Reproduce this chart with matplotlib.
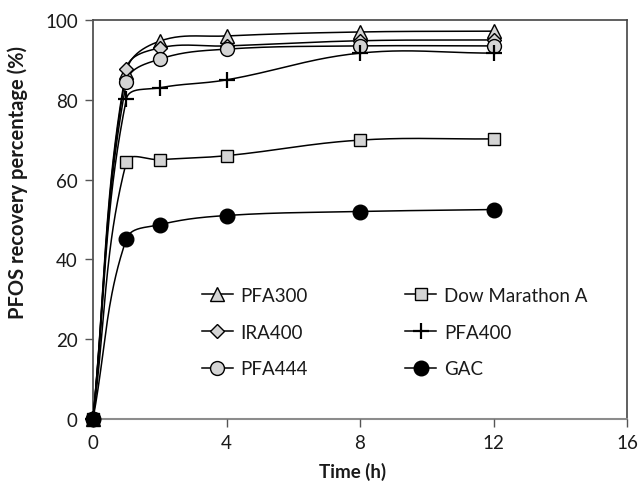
import numpy as np
import matplotlib
matplotlib.use("Agg")
import matplotlib.pyplot as plt
from matplotlib.lines import Line2D

plt.rcParams['font.family'] = ['Lato', 'DejaVu Sans']

time_h = [0, 1, 2, 4, 8, 12]
pfa300 = [0, 87.0, 94.7, 96.0, 97.0, 97.2]
ira400 = [0, 87.7, 93.0, 93.5, 94.8, 95.0]
pfa444 = [0, 84.4, 90.2, 92.7, 93.5, 93.5]
pfa400 = [0, 80.2, 83.0, 85.0, 91.7, 91.7]
dow_marathon_a = [0, 64.4, 65.0, 66.0, 69.9, 70.2]
gac = [0, 45.1, 48.7, 51.0, 52.0, 52.5]

xticks = [0, 4, 8, 12, 16]
yticks = [0, 20, 40, 60, 80, 100]

XS, YS = 33.4, 3.99  # approximate pixels per data unit, used only for curve shape


def smooth(x, y, n=40, k=0.38):
    """Excel-like smoothed drawing path through the data points (Bezier,
    tangents scaled by neighbouring segment lengths)."""
    P = np.column_stack([np.asarray(x, float) * XS, np.asarray(y, float) * YS])
    m = len(P)
    out = []
    t = np.linspace(0, 1, n)[:, None]
    for i in range(m - 1):
        a, b = P[i], P[i + 1]
        prev = P[i - 1] if i > 0 else a
        nxt = P[i + 2] if i + 2 < m else b
        L = np.linalg.norm(b - a)
        Lp = np.linalg.norm(a - prev)
        Ln = np.linalg.norm(nxt - b)
        c1 = a + (b - prev) * k * L / (Lp + L) if (Lp + L) > 0 else a
        c2 = b - (nxt - a) * k * L / (Ln + L) if (Ln + L) > 0 else b
        seg = (1 - t) ** 3 * a + 3 * (1 - t) ** 2 * t * c1 + 3 * (1 - t) * t ** 2 * c2 + t ** 3 * b
        out.append(seg)
    S = np.vstack(out)
    return S[:, 0] / XS, S[:, 1] / YS


fig = plt.figure(figsize=(6.38, 4.85), dpi=100)
ax = fig.add_axes([93 / 638, 65 / 485, 534 / 638, 399 / 485])

gray = '#d4d4d4'
series = [
    ('PFA300', pfa300, dict(marker='^', mfc=gray, mec='black', ms=10)),
    ('IRA400', ira400, dict(marker='D', mfc=gray, mec='black', ms=7.5)),
    ('PFA444', pfa444, dict(marker='o', mfc=gray, mec='black', ms=10)),
    ('Dow Marathon A', dow_marathon_a, dict(marker='s', mfc=gray, mec='black', ms=9)),
    ('PFA400', pfa400, dict(marker='+', mfc='black', mec='black', ms=12, mew=1.6)),
    ('GAC', gac, dict(marker='o', mfc='black', mec='black', ms=10.5)),
]

handles = {}
for name, vals, st in series:
    sx, sy = smooth(time_h, vals)
    ax.plot(sx, sy, color='black', lw=1.1, zorder=2, clip_on=False)
    mew = st.pop('mew', 1.0)
    ax.plot(time_h, vals, linestyle='none', mew=mew, zorder=3, clip_on=False, **st)
    handles[name] = Line2D([], [], color='black', lw=1.1, mew=mew, **st)

ax.set_xlim(0, 16)
ax.set_ylim(0, 100)
ax.set_xticks(xticks)
ax.set_yticks(yticks)
ax.tick_params(axis='both', direction='out', length=6, width=1, colors='#555555',
               labelsize=13.5, labelcolor='#1a1a1a', pad=5)
for s in ['left', 'top', 'right']:
    ax.spines[s].set_color('#444444')
    ax.spines[s].set_linewidth(1.2)
ax.spines['bottom'].set_color('#8c8c8c')
ax.spines['bottom'].set_linewidth(1.5)
for sp in ax.spines.values():
    sp.set_zorder(1)

ax.set_xlabel('Time (h)', fontsize=13.5, fontweight='bold', color='#1a1a1a')
ax.set_ylabel('PFOS recovery percentage (%)', fontsize=14.5, fontweight='bold', color='#1a1a1a')
ax.xaxis.set_label_coords((353 - 93) / 534, -0.108)
ax.yaxis.set_label_coords(-0.122, (420 - 182) / 399)

order = ['PFA300', 'IRA400', 'PFA444', 'Dow Marathon A', 'PFA400', 'GAC']
leg = ax.legend([handles[k] for k in order], order, ncol=2, frameon=False,
                loc='upper left', bbox_to_anchor=((202 - 93) / 534, (420 - 288) / 399),
                borderpad=0, borderaxespad=0, fontsize=13.5,
                handlelength=1.65, handletextpad=0.4, columnspacing=5.2,
                labelspacing=1.05, labelcolor='#1a1a1a')

fig.savefig('out.png', dpi=100)
